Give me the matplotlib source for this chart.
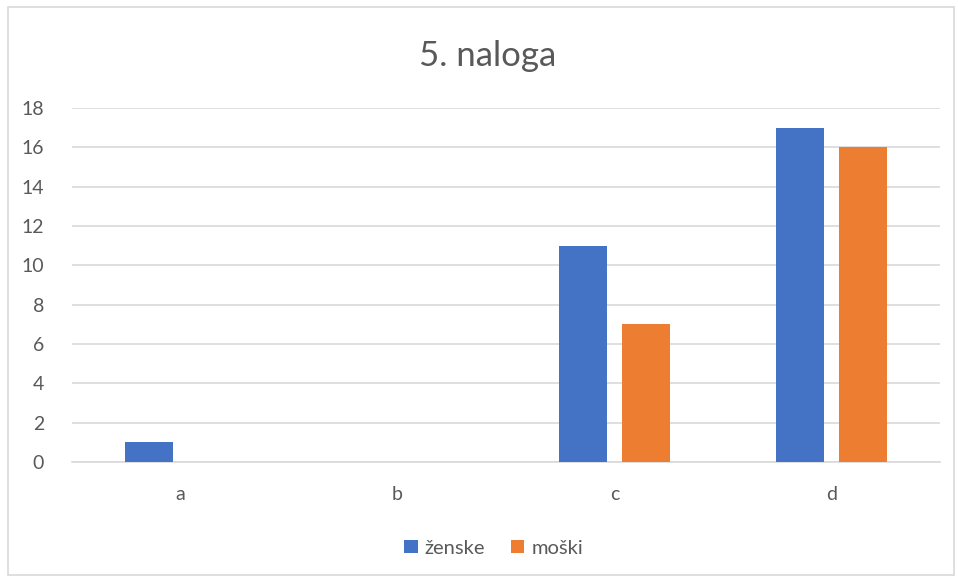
import matplotlib
matplotlib.use("Agg")
import matplotlib.pyplot as plt
import numpy as np
from matplotlib.patches import Rectangle

plt.rcParams['font.family'] = ['Lato', 'DejaVu Sans']

kategorije = ['a', 'b', 'c', 'd']
zenske = [1, 0, 11, 17]
moski = [0, 0, 7, 16]

modra = '#4472C4'
oranzna = '#ED7D31'
siva = '#595959'

fig = plt.figure(figsize=(9.58, 5.80), dpi=100)
# okvir grafa
fig.patches.append(Rectangle((8 / 958, 5 / 580), 946 / 958, 568 / 580, transform=fig.transFigure,
                             fill=False, edgecolor='#D9D9D9', linewidth=1.2))

ax = fig.add_axes([72 / 958, 118 / 580, 868 / 958, 354 / 580])

x = np.arange(len(kategorije))
sirina = 0.221
ax.bar(x - 0.143, zenske, sirina, color=modra, label='ženske', zorder=3)
ax.bar(x + 0.143, moski, sirina, color=oranzna, label='moški', zorder=3)

ax.set_xlim(-0.5, 3.5)
ax.set_ylim(0, 18)
ax.set_yticks(np.arange(0, 19, 2))
ax.set_xticks(x)
ax.set_xticklabels(kategorije)
ax.yaxis.grid(True, color='#D9D9D9', linewidth=1.2, zorder=0)
for s in ax.spines.values():
    s.set_visible(False)
ax.spines['bottom'].set_visible(True)
ax.spines['bottom'].set_color('#D9D9D9')
ax.spines['bottom'].set_linewidth(1.2)
ax.tick_params(axis='both', length=0, colors=siva, labelsize=14)
ax.tick_params(axis='x', pad=17)
ax.tick_params(axis='y', pad=20)

fig.text(488 / 958, 1 - 56 / 580, '5. naloga', ha='center', va='center', fontsize=25, color=siva)

ax.legend(loc='center', bbox_to_anchor=(0.486, -0.243), ncol=2, frameon=False,
          fontsize=14.5, labelcolor=siva, handlelength=0.65, handleheight=0.65,
          handletextpad=0.35, columnspacing=1.3)

fig.savefig('out.png', dpi=100)
